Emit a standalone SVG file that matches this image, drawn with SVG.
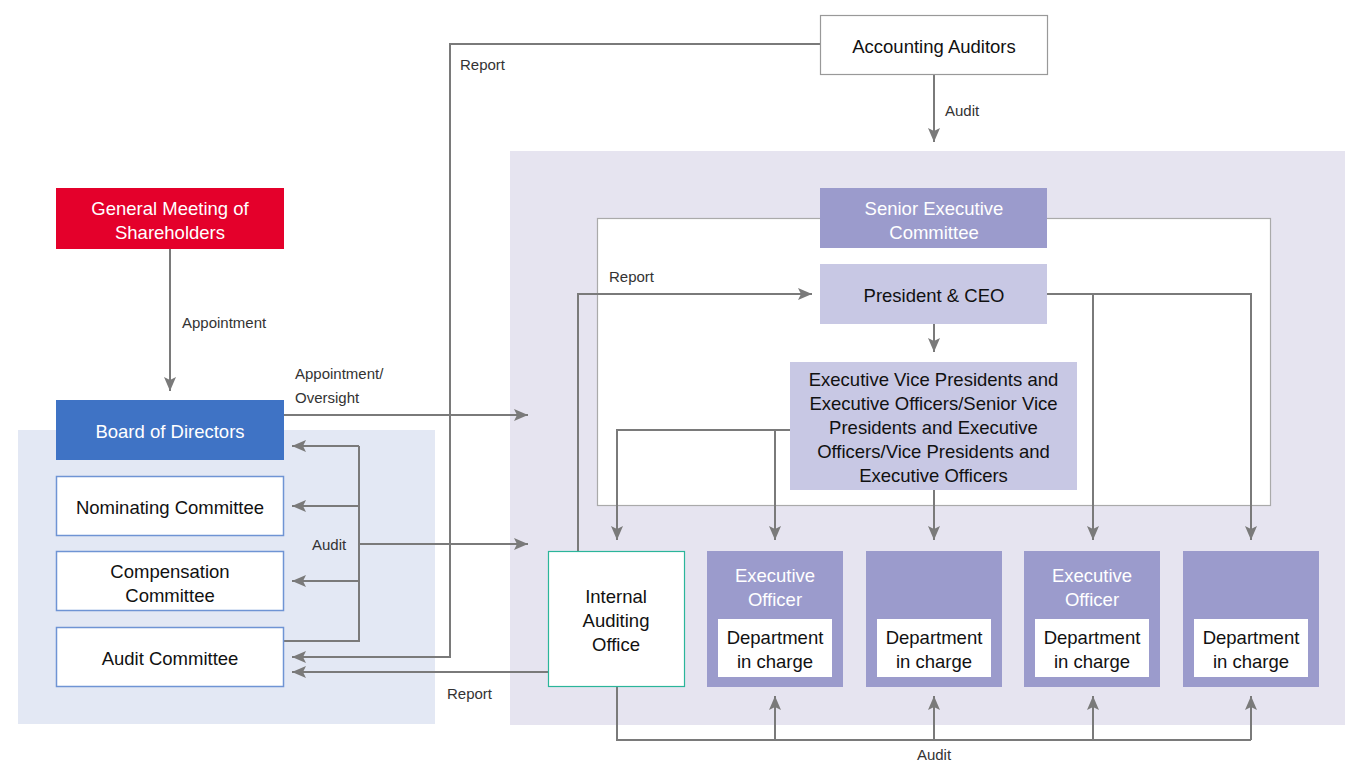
<svg xmlns="http://www.w3.org/2000/svg" width="1345" height="765" viewBox="0 0 1345 765">
<style>
text{font-family:"Liberation Sans",Arial,sans-serif;}
.t{font-size:18.5px;fill:#111;text-anchor:middle;}
.w{fill:#fff;}
.s{font-size:15px;fill:#333;}
.c{fill:none;stroke:#7a7a7a;stroke-width:2;}
.a{marker-end:url(#ah);}
.wb{fill:#fff;stroke:#6f94d4;stroke-width:1.5;}
.pd{fill:#9b9bcc;}
.pl{fill:#c8c8e4;}
</style>
<defs>
<marker id="ah" markerUnits="userSpaceOnUse" markerWidth="14" markerHeight="12" refX="14" refY="6" orient="auto">
<path d="M0,0 L14,6 L0,12 L3,6 z" fill="#7a7a7a"/>
</marker>
</defs>
<rect width="1345" height="765" fill="#fff"/>
<g id="panels">
<rect x="18" y="430" width="417" height="294" fill="#e3e8f4"/>
<rect x="510" y="151" width="835" height="574" fill="#e6e4f0"/>
<rect x="597.5" y="218.5" width="673" height="287" fill="#fff" stroke="#aaa" stroke-width="1.2"/>
</g>
<g id="connectors">
<path class="c a" d="M170,249 V391"/>
<path class="c a" d="M284,415 H528"/>
<path class="c" d="M284,641 H359 V446"/>
<path class="c a" d="M359,446 H292"/>
<path class="c a" d="M359,506 H292"/>
<path class="c a" d="M359,581 H292"/>
<path class="c a" d="M359,544 H528"/>
<path class="c a" d="M820,44 H450 V657 H292"/>
<path class="c a" d="M548,672 H292"/>
<path class="c a" d="M934,75 V142"/>
<path class="c a" d="M578,551 V294 H812"/>
<path class="c a" d="M934,324 V352"/>
<path class="c a" d="M1047,294 H1251 V540"/>
<path class="c a" d="M1093,294 V540"/>
<path class="c a" d="M790,430 H617 V540"/>
<path class="c a" d="M775,430 V540"/>
<path class="c a" d="M934,490 V540"/>
<path class="c" d="M617,687 V740 H1251"/>
<path class="c a" d="M775,740 V696"/>
<path class="c a" d="M934,740 V696"/>
<path class="c a" d="M1093,740 V696"/>
<path class="c a" d="M1251,740 V696"/>
</g>
<g id="labels">
<text class="s" x="182" y="328">Appointment</text>
<text class="s" x="295" y="379">Appointment/</text>
<text class="s" x="295" y="403">Oversight</text>
<text class="s" x="312" y="550">Audit</text>
<text class="s" x="460" y="70">Report</text>
<text class="s" x="447" y="699">Report</text>
<text class="s" x="609" y="282">Report</text>
<text class="s" x="945" y="116">Audit</text>
<text class="s" x="934" y="760" text-anchor="middle">Audit</text>
</g>
<g id="general-meeting">
<rect x="56" y="188" width="228" height="61" fill="#e4002b"/>
<text class="t w" x="170" y="215">General Meeting of</text>
<text class="t w" x="170" y="239">Shareholders</text>
</g>
<g id="board">
<rect x="56" y="400" width="228" height="60" fill="#3f73c5"/>
<text class="t w" x="170" y="438">Board of Directors</text>
</g>
<g id="nominating">
<rect class="wb" x="56.5" y="476.5" width="227" height="59"/>
<text class="t" x="170" y="514">Nominating Committee</text>
</g>
<g id="compensation">
<rect class="wb" x="56.5" y="551.5" width="227" height="59"/>
<text class="t" x="170" y="578">Compensation</text>
<text class="t" x="170" y="602">Committee</text>
</g>
<g id="audit-committee">
<rect class="wb" x="56.5" y="627.5" width="227" height="59"/>
<text class="t" x="170" y="665">Audit Committee</text>
</g>
<g id="accounting-auditors">
<rect x="820.5" y="15.5" width="227" height="59" fill="#fff" stroke="#999" stroke-width="1.2"/>
<text class="t" x="934" y="53">Accounting Auditors</text>
</g>
<g id="senior-executive-committee">
<rect class="pd" x="820" y="188" width="227" height="60"/>
<text class="t w" x="934" y="215">Senior Executive</text>
<text class="t w" x="934" y="239">Committee</text>
</g>
<g id="president">
<rect class="pl" x="820" y="264" width="227" height="60"/>
<text class="t" x="934" y="302">President &amp; CEO</text>
</g>
<g id="evp">
<rect class="pl" x="790" y="362" width="287" height="128"/>
<text class="t" x="933.5" y="386">Executive Vice Presidents and</text>
<text class="t" x="933.5" y="410">Executive Officers/Senior Vice</text>
<text class="t" x="933.5" y="434">Presidents and Executive</text>
<text class="t" x="933.5" y="458">Officers/Vice Presidents and</text>
<text class="t" x="933.5" y="482">Executive Officers</text>
</g>
<g id="internal-auditing">
<rect x="548.5" y="551.5" width="136" height="135" fill="#fff" stroke="#2bb59a" stroke-width="1.2"/>
<text class="t" x="616" y="603">Internal</text>
<text class="t" x="616" y="627">Auditing</text>
<text class="t" x="616" y="651">Office</text>
</g>
<g id="exec-officer-1">
<rect class="pd" x="707" y="551" width="136" height="136"/>
<text class="t w" x="775" y="582">Executive</text>
<text class="t w" x="775" y="606">Officer</text>
<rect x="718" y="619" width="114" height="58" fill="#fff"/>
<text class="t" x="775" y="644">Department</text>
<text class="t" x="775" y="668">in charge</text>
</g>
<g id="department-2">
<rect class="pd" x="866" y="551" width="136" height="136"/>
<rect x="877" y="619" width="114" height="58" fill="#fff"/>
<text class="t" x="934" y="644">Department</text>
<text class="t" x="934" y="668">in charge</text>
</g>
<g id="exec-officer-3">
<rect class="pd" x="1024" y="551" width="136" height="136"/>
<text class="t w" x="1092" y="582">Executive</text>
<text class="t w" x="1092" y="606">Officer</text>
<rect x="1035" y="619" width="114" height="58" fill="#fff"/>
<text class="t" x="1092" y="644">Department</text>
<text class="t" x="1092" y="668">in charge</text>
</g>
<g id="department-4">
<rect class="pd" x="1183" y="551" width="136" height="136"/>
<rect x="1194" y="619" width="114" height="58" fill="#fff"/>
<text class="t" x="1251" y="644">Department</text>
<text class="t" x="1251" y="668">in charge</text>
</g>
</svg>
